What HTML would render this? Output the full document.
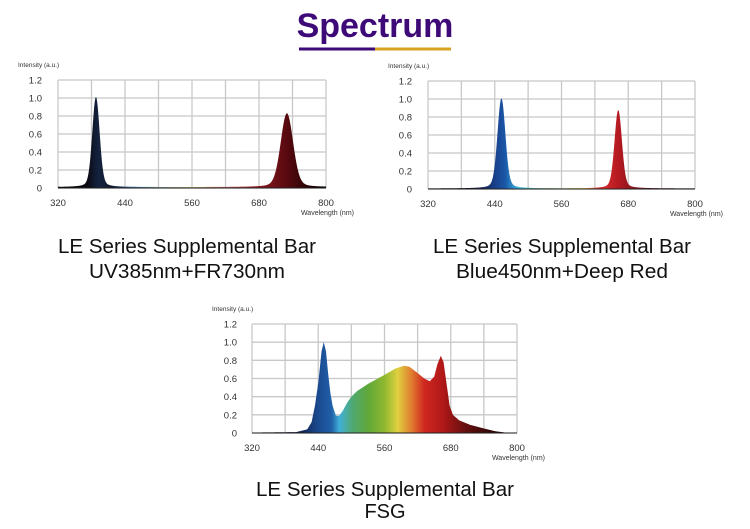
<!DOCTYPE html>
<html><head><meta charset="utf-8"><style>
body{margin:0;background:#fff;width:750px;height:529px;overflow:hidden}
svg{display:block}
</style></head><body>
<svg id="s" width="750" height="529" xmlns="http://www.w3.org/2000/svg" font-family="Liberation Sans, sans-serif">
<defs>
<linearGradient id="g1" x1="320" x2="800" gradientUnits="userSpaceOnUse">
<stop offset="0" stop-color="#000"/><stop offset="0.11" stop-color="#0a0a14"/><stop offset="0.15" stop-color="#14223e"/><stop offset="0.2" stop-color="#0f1a30"/>
<stop offset="0.28" stop-color="#3a6aa0"/><stop offset="0.38" stop-color="#88b0a0"/><stop offset="0.5" stop-color="#c8c070"/><stop offset="0.62" stop-color="#c06060"/>
<stop offset="0.75" stop-color="#8a1a20"/><stop offset="0.85" stop-color="#5a0a10"/><stop offset="0.95" stop-color="#200000"/><stop offset="1" stop-color="#000"/>
</linearGradient>
<linearGradient id="g2" x1="320" x2="800" gradientUnits="userSpaceOnUse">
<stop offset="0" stop-color="#000"/><stop offset="0.17" stop-color="#101030"/><stop offset="0.25" stop-color="#1a3f8a"/><stop offset="0.29" stop-color="#1a58a8"/><stop offset="0.34" stop-color="#40b8e0"/>
<stop offset="0.4" stop-color="#60c0a0"/><stop offset="0.5" stop-color="#a0c060"/><stop offset="0.58" stop-color="#e0c060"/><stop offset="0.64" stop-color="#e03030"/>
<stop offset="0.72" stop-color="#b01820"/><stop offset="0.82" stop-color="#601018"/><stop offset="1" stop-color="#100000"/>
</linearGradient>
<linearGradient id="g3" x1="320" x2="800" gradientUnits="userSpaceOnUse">
<stop offset="0" stop-color="#000"/><stop offset="0.17" stop-color="#101a40"/><stop offset="0.25" stop-color="#1a4a90"/><stop offset="0.3" stop-color="#2060a8"/><stop offset="0.33" stop-color="#40b0d8"/>
<stop offset="0.38" stop-color="#50a870"/><stop offset="0.44" stop-color="#60a838"/><stop offset="0.5" stop-color="#90b830"/><stop offset="0.55" stop-color="#e0d040"/>
<stop offset="0.6" stop-color="#e08030"/><stop offset="0.65" stop-color="#d02820"/><stop offset="0.72" stop-color="#b01818"/><stop offset="0.8" stop-color="#6a1010"/><stop offset="0.9" stop-color="#300606"/><stop offset="1" stop-color="#100000"/>
</linearGradient>
</defs>
<text x="375" y="37" text-anchor="middle" font-size="34" font-weight="bold" fill="#3d0a78">Spectrum</text>
<rect x="299" y="47.5" width="76" height="3" fill="#3d0a78"/><rect x="375" y="47.5" width="76" height="3" fill="#d9a322"/>
<g id="charts"></g>
<g font-family="Liberation Sans, sans-serif" font-size="20" fill="#111" text-anchor="middle">
<text x="187" y="253" textLength="258" lengthAdjust="spacingAndGlyphs">LE Series Supplemental Bar</text>
<text x="187" y="278" textLength="196" lengthAdjust="spacingAndGlyphs">UV385nm+FR730nm</text>
<text x="562" y="253" textLength="258" lengthAdjust="spacingAndGlyphs">LE Series Supplemental Bar</text>
<text x="562" y="278" textLength="212" lengthAdjust="spacingAndGlyphs">Blue450nm+Deep Red</text>
<text x="385" y="496" textLength="258" lengthAdjust="spacingAndGlyphs">LE Series Supplemental Bar</text>
<text x="385" y="518">FSG</text>
</g>
</svg>
<script>
var NS="http://www.w3.org/2000/svg",G=document.getElementById("charts");
function el(t,a,p){var e=document.createElementNS(NS,t);for(var k in a)e.setAttribute(k,a[k]);(p||G).appendChild(e);return e;}
function lor(x,c,w,h){var d=(x-c)/w;return h/(1+d*d);}
function gau(x,c,w,h){var d=(x-c)/w;return h*Math.exp(-0.5*d*d);}
function chart(L,R,T,B,f,grad,ylx){
  var g=el("g",{});
  for(var i=0;i<=8;i++){var x=L+(R-L)*i/8;el("line",{x1:x,x2:x,y1:T,y2:B,stroke:"#c8c8c8","stroke-width":1.3},g);}
  for(var j=0;j<=6;j++){var y=T+(B-T)*j/6;el("line",{x1:L,x2:R,y1:y,y2:y,stroke:"#c8c8c8","stroke-width":1.3},g);}
  var d="M320,0";
  for(var w=320;w<=800;w+=0.5){d+=" L"+w+","+f(w).toFixed(4);}
  d+=" L800,0 Z";
  var sx=(R-L)/480,sy=-(B-T)/1.2;
  el("path",{d:d,fill:"url(#"+grad+")",transform:"translate("+(L-320*sx)+","+B+") scale("+sx+","+sy+")"},g);
  el("line",{x1:L,x2:R,y1:B,y2:B,stroke:"#222","stroke-width":1},g);
  var labs=["0","0.2","0.4","0.6","0.8","1.0","1.2"];
  for(var j=0;j<=6;j++){var t=el("text",{x:ylx,y:B-(B-T)*j/6+3.5,"font-size":9.5,fill:"#333","text-anchor":"end"},g);t.textContent=labs[j];}
  var xl=["320","440","560","680","800"];
  for(var i=0;i<5;i++){var t=el("text",{x:L+(R-L)*i/4,y:B+18,"font-size":9.5,fill:"#333","text-anchor":"middle"},g);t.textContent=xl[i];}
  var t=el("text",{x:L-40,y:T-13,"font-size":6.5,fill:"#333"},g);t.textContent="Intensity (a.u.)";
  t=el("text",{x:R+28,y:B+27,"font-size":7,fill:"#333","text-anchor":"end"},g);t.textContent="Wavelength (nm)";
}
var P=[[320,0.005],[400,0.01],[420,0.04],[428,0.12],[434,0.3],[440,0.55],[446,0.9],[450,1.0],[454,0.9],[458,0.65],[462,0.44],[466,0.3],[472,0.19],[478,0.19],[485,0.25],[492,0.33],[500,0.4],[510,0.46],[530,0.54],[560,0.64],[580,0.71],[595,0.74],[605,0.73],[620,0.66],[632,0.6],[642,0.57],[650,0.62],[656,0.76],[662,0.85],[667,0.78],[672,0.56],[678,0.3],[684,0.2],[695,0.14],[715,0.09],[740,0.05],[760,0.02],[780,0.004],[800,0.002]];
function interp(w){for(var i=1;i<P.length;i++){if(w<=P[i][0]){var a=P[i-1],b=P[i];return a[1]+(b[1]-a[1])*(w-a[0])/(b[0]-a[0]);}}return 0;}
chart(58,326,80,188,function(w){return gau(w,388,6.5,0.82)+lor(w,388,9,0.18)+gau(w,730,11,0.68)+lor(w,730,15,0.14)+0.01;},"g1",42);
chart(428,695,81,189,function(w){return gau(w,452,7,0.82)+lor(w,452,10,0.18)+gau(w,662,6.5,0.72)+lor(w,662,10,0.15)+0.006;},"g2",412);
chart(252,517,324,433,interp,"g3",237);
</script>
</body></html>
